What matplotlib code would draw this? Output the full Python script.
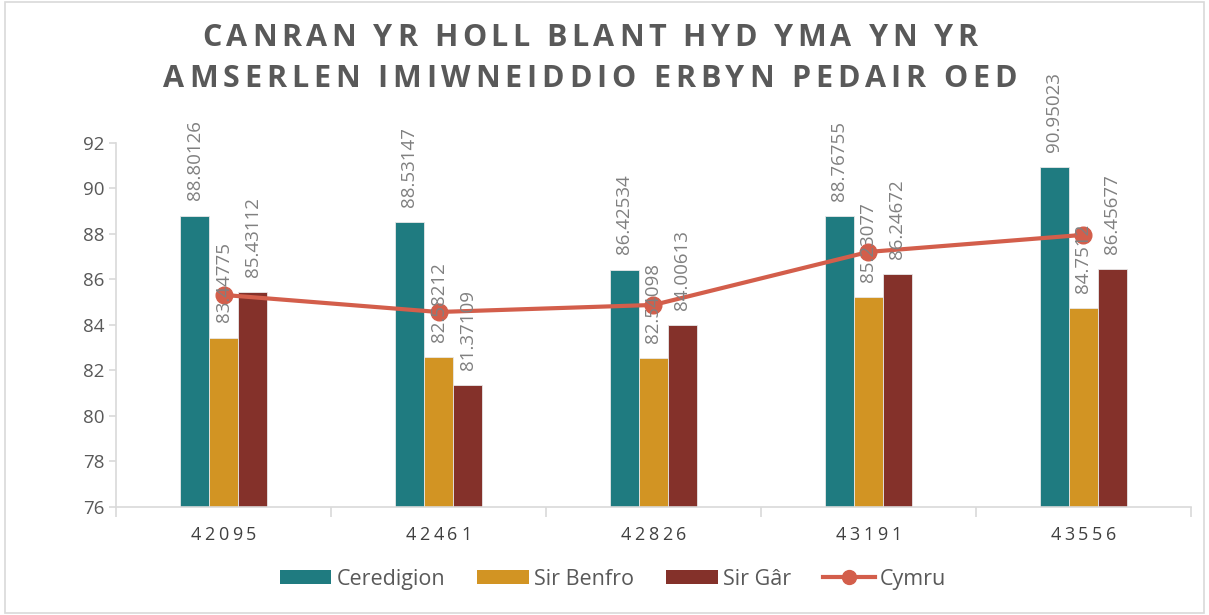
import numpy as np
import matplotlib

matplotlib.use('Agg')
import matplotlib.pyplot as plt
from matplotlib.patches import Rectangle, Patch
from matplotlib.lines import Line2D
from matplotlib.transforms import offset_copy, blended_transform_factory
from matplotlib import font_manager
from matplotlib.ft2font import FT2Font

categories = ['42095', '42461', '42826', '43191', '43556']
ceredigion = [88.80126, 88.53147, 86.42534, 88.76755, 90.95023]
sir_benfro = [83.44775, 82.58212, 82.54098, 85.23077, 84.7512]
sir_gar = [85.43112, 81.37109, 84.00613, 86.24672, 86.45677]
cymru = [85.32, 84.57, 84.88, 87.21, 87.96]

series_names = ['Ceredigion', 'Sir Benfro', 'Sir Gâr']
title_lines = ["CANRAN YR HOLL BLANT HYD YMA YN YR", "AMSERLEN IMIWNEIDDIO ERBYN PEDAIR OED"]
colors = ['#1F7B80', '#D29423', '#84312A']
line_color = '#D35E4B'

plt.rcParams['font.family'] = ['Open Sans', 'DejaVu Sans']
DPI = 100


def advances(text, size, weight='normal'):
    # glyph advance widths in points
    path = font_manager.findfont(font_manager.FontProperties(family='Open Sans', weight=weight))
    font = FT2Font(path)
    font.set_size(size, 72)
    out = []
    for ch in text:
        g = font.load_char(ord(ch))
        out.append(g.linearHoriAdvance / 65536)
    return out


def tracked_text(fig, x, y, text, size, total_px, transform, weight='normal', color='k', va='center'):
    # draw text centred at (x, y) with extra spacing so that it spans total_px
    adv = advances(text, size, weight)
    total_pt = total_px * 72 / DPI
    extra = (total_pt - sum(adv)) / max(len(text) - 1, 1)
    pos = -total_pt / 2
    for ch, a in zip(text, adv):
        tr = offset_copy(transform, fig=fig, x=pos, y=0, units='points')
        fig.text(x, y, ch, transform=tr, fontsize=size, fontweight=weight, color=color,
                 ha='left', va=va)
        pos += a + extra


fig = plt.figure(figsize=(12.09, 6.15), dpi=DPI)
ax = fig.add_axes([0.096, 0.1756, 0.889, 0.592])

x = np.arange(len(categories))
width = 0.135
for i, (vals, col) in enumerate(zip([ceredigion, sir_benfro, sir_gar], colors)):
    pos = x + (i - 1) * width
    ax.bar(pos, vals, width, color=col, edgecolor='#e8e8e8', linewidth=0.6, zorder=2)
    for px, v in zip(pos, vals):
        ax.annotate(str(v), (px, v), xytext=(0, 11), textcoords='offset points',
                    rotation=90, ha='center', va='bottom', fontsize=13.5,
                    color='#808080', zorder=4)

ax.plot(x, cymru, color=line_color, linewidth=3, marker='o', markersize=12, zorder=3)

ax.set_ylim(76, 92)
ax.set_yticks(np.arange(76, 93, 2))
ax.set_xlim(-0.5, len(categories) - 0.5)
ax.set_xticks(x)
ax.set_xticklabels([])
ax.set_xticks(np.arange(-0.5, len(categories)), minor=True)

for s in ['top', 'right']:
    ax.spines[s].set_visible(False)
for s in ['left', 'bottom']:
    ax.spines[s].set_color('#D9D9D9')
    ax.spines[s].set_linewidth(1.2)

ax.tick_params(axis='y', colors='#D9D9D9', labelcolor='#595959', labelsize=13.5, length=5, width=1.2)
ax.tick_params(axis='x', which='major', length=0)
ax.tick_params(axis='x', which='minor', length=7, width=1.2, colors='#D9D9D9')

# x tick labels with letter spacing
xtr = blended_transform_factory(ax.transData, fig.transFigure)
for xi, lab in zip(x, categories):
    tracked_text(fig, xi, 1 - 535 / 615, lab, 13, 66, xtr, color='#404040')

# title
ttr = fig.transFigure
tracked_text(fig, 0.488, 1 - 38 / 615, title_lines[0], 22, 775, ttr, weight='bold', color='#595959')
tracked_text(fig, 0.488, 1 - 79 / 615, title_lines[1], 22, 854, ttr, weight='bold', color='#595959')

handles = [Patch(facecolor=c) for c in colors]
handles.append(Line2D([], [], color=line_color, linewidth=3, marker='o', markersize=10))
fig.legend(handles, series_names + ['Cymru'], loc='center', bbox_to_anchor=(0.507, 0.058),
           ncol=4, frameon=False, fontsize=15.5, handlelength=2.4, handleheight=0.65,
           columnspacing=1.5, handletextpad=0.23, labelcolor='#595959')

fig.patches.append(Rectangle((0.004, 0.004), 0.992, 0.992, transform=fig.transFigure,
                             fill=False, edgecolor='#D9D9D9', linewidth=1.2))

fig.savefig('out.png', dpi=DPI)
